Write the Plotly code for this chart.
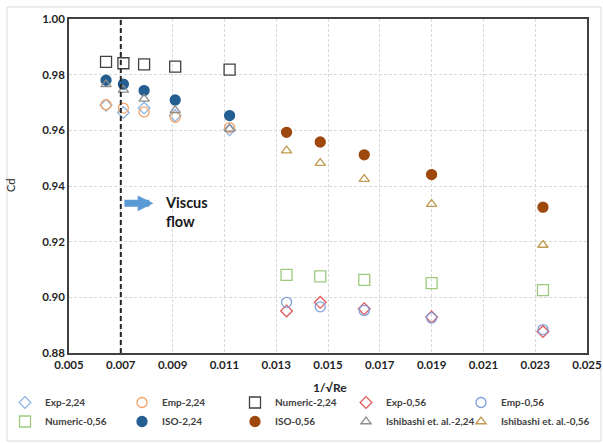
import plotly.graph_objects as go

x_vals = [0.00643, 0.0071, 0.0079, 0.0091, 0.0112]
x_vals_056 = [0.0134, 0.0147, 0.0164, 0.0190, 0.0233]

exp_224 = [0.969, 0.9664, 0.968, 0.9653, 0.9602]
emp_224 = [0.9692, 0.968, 0.9666, 0.9647, 0.961]
numeric_224 = [0.9846, 0.9841, 0.9837, 0.9829, 0.9818]
exp_056 = [0.8951, 0.8982, 0.8959, 0.8929, 0.8877]
emp_056 = [0.8982, 0.8966, 0.8953, 0.8926, 0.8884]
numeric_056 = [0.9081, 0.9075, 0.9063, 0.9051, 0.9026]
iso_224 = [0.978, 0.9766, 0.9743, 0.9709, 0.9653]
iso_056 = [0.9593, 0.9558, 0.9512, 0.9441, 0.9324]
ishi_224 = [0.9765, 0.9745, 0.9713, 0.9672, 0.9605]
ishi_056 = [0.9527, 0.9482, 0.9425, 0.9335, 0.9188]

viscous_x = 0.007

series = [
    ("Exp-2,24", x_vals, exp_224, "diamond-open", "#8DB4E2", 9),
    ("Emp-2,24", x_vals, emp_224, "circle-open", "#F4A46A", 10),
    ("Numeric-2,24", x_vals, numeric_224, "square-open", "#404040", 11),
    ("Exp-0,56", x_vals_056, exp_056, "diamond-open", "#E05A5A", 9),
    ("Emp-0,56", x_vals_056, emp_056, "circle-open", "#7F9FDC", 10),
    ("Numeric-0,56", x_vals_056, numeric_056, "square-open", "#9CCB7E", 11),
    ("ISO-2,24", x_vals, iso_224, "circle", "#255E91", 10),
    ("ISO-0,56", x_vals_056, iso_056, "circle", "#9E480E", 10),
    ("Ishibashi et. al.-2,24", x_vals, ishi_224, "triangle-up-open", "#8C8C8C", 9),
    ("Ishibashi et. al.-0,56", x_vals_056, ishi_056, "triangle-up-open", "#C09A50", 9),
]

FONT = "Lato"
W, H = 603, 443
L, R, T, B = 69, 16, 19, 90
PW, PH = W - L - R, H - T - B
N_COLS = 5
legend_left_px = [5, 122, 235, 346, 461]
legend_names = ["legend"] + ["legend%d" % (i + 1) for i in range(1, N_COLS)]

fig = go.Figure()
for i, (name, xs, ys, sym, col, sz) in enumerate(series):
    fig.add_trace(go.Scatter(
        x=xs, y=ys, mode="markers", name=name,
        legend=legend_names[i % N_COLS],
        marker=dict(symbol=sym, color=col, size=sz,
                    line=dict(color=col, width=1.3)),
    ))

fig.add_shape(type="line", xref="x", yref="paper", x0=viscous_x, x1=viscous_x,
              y0=0, y1=1, line=dict(color="#262626", width=2, dash="5px,3px"))

fig.add_annotation(x=0.00826, y=0.9338, ax=0.00708, ay=0.9338,
                   xref="x", yref="y", axref="x", ayref="y",
                   text="", showarrow=True, arrowhead=2, arrowsize=0.45,
                   arrowwidth=7, arrowcolor="#5B9BD5")
fig.add_annotation(x=0.00862, y=0.9305, xref="x", yref="y",
                   text="<b>Viscus<br>flow</b>", showarrow=False,
                   xanchor="left", yanchor="middle", align="left",
                   font=dict(size=14.5, color="#1a1a1a", family=FONT))

# axis titles
fig.add_annotation(x=(10 - L) / PW, y=0.5, xref="paper", yref="paper",
                   xanchor="center", yanchor="middle",
                   text="Cd", textangle=-90, showarrow=False,
                   font=dict(size=11, color="#262626", family=FONT))
fig.add_annotation(x=(330 - L) / PW, y=(T + PH - 387) / PH, xref="paper", yref="paper",
                   xanchor="center", yanchor="middle",
                   text="<b>1/√Re</b>", showarrow=False,
                   font=dict(size=12, color="#262626", family=FONT))

# outer chart frame
fig.add_shape(type="rect", xref="paper", yref="paper",
              x0=(7 - L) / PW, x1=(601 - L) / PW,
              y0=(T + PH - 441) / PH, y1=(T + PH - 7) / PH,
              line=dict(color="#d9d9d9", width=1), layer="below")

legend_style = dict(orientation="v", yanchor="top", xanchor="left",
                    y=(T + PH - 388) / PH,
                    font=dict(size=10, weight="bold", color="#404040", family=FONT),
                    itemwidth=30, tracegroupgap=0, bgcolor="rgba(0,0,0,0)")
legends = {}
for lname, px in zip(legend_names, legend_left_px):
    legends[lname] = dict(legend_style, x=(px - L) / PW)

fig.update_layout(
    width=W, height=H,
    margin=dict(l=L, r=R, t=T, b=B, autoexpand=False),
    paper_bgcolor="white", plot_bgcolor="white",
    font=dict(family=FONT, size=11, color="#262626"),
    showlegend=True,
    **legends,
)
fig.update_xaxes(range=[0.005, 0.025], dtick=0.002, tick0=0.005, tickformat=".3f",
                 showgrid=True, gridcolor="#d9d9d9", griddash="3px,2px",
                 showline=True, linecolor="#404040", linewidth=1.5, mirror=True,
                 zeroline=False, ticks="", automargin=False,
                 tickfont=dict(size=11.5, weight="bold", color="#1f1f1f"))
fig.update_yaxes(range=[0.88, 1.00], dtick=0.02, tickformat=".2f",
                 showgrid=True, gridcolor="#d9d9d9", griddash="3px,2px",
                 showline=True, linecolor="#404040", linewidth=1.5, mirror=True,
                 zeroline=False, ticks="", automargin=False,
                 tickfont=dict(size=11.5, weight="bold", color="#1f1f1f"))

fig.write_html("out.html", config={"displayModeBar": False},
               post_script="document.body.style.margin='0';document.body.style.overflow='hidden';")
